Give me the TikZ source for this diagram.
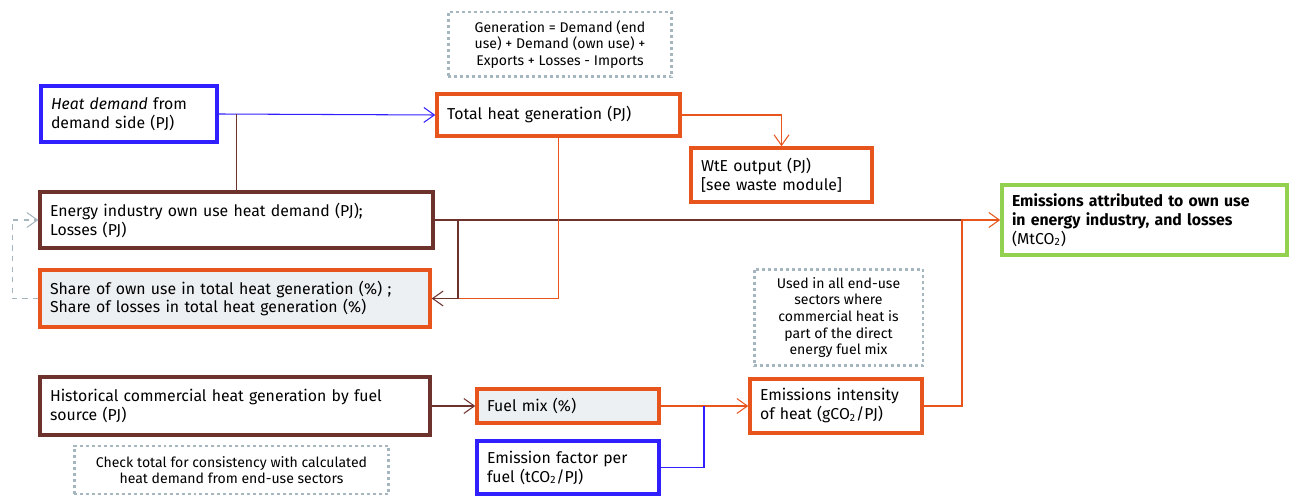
\documentclass[tikz,border=0pt]{standalone}
\usepackage{fontspec}
\setmainfont{Fira Sans}
\definecolor{heatblue}{RGB}{48, 32, 255}
\definecolor{genorange}{RGB}{232, 85, 28}
\definecolor{ownbrown}{RGB}{110, 50, 45}
\definecolor{emisgreen}{RGB}{146, 208, 80}
\definecolor{notegray}{RGB}{166, 182, 190}
\definecolor{sharefill}{RGB}{237, 240, 243}
\usetikzlibrary{arrows.meta, positioning}

\begin{document}
\begin{tikzpicture}[x=0.02cm, y=-0.02cm,
  box/.style={draw, line width=2pt, inner xsep=0.2cm, inner ysep=2pt, align=left,
    font=\fontsize{9}{10.8}\selectfont},
  note/.style={draw=notegray, line width=1.7pt, dash pattern=on 1.7pt off 1.7pt,
    align=center, font=\fontsize{8}{9.4}\selectfont},
  link/.style={line width=0.6pt},
  tip/.style={-{Straight Barb[length=6pt, width=8.5pt]}}]
  \useasboundingbox (0,0) rectangle (1291,496);

  % Inputs on the left
  \node[box, draw=heatblue, text width=3.12cm, minimum height=1.12cm] (heat) at (129,114)
    {\textit{Heat demand} from\\ demand side (PJ)};
  \node[box, draw=ownbrown, text width=7.46cm, minimum height=1.12cm] (own) at (236.5,220)
    {Energy industry own use heat demand (PJ);\\ Losses (PJ)};
  \node[box, draw=genorange, fill=sharefill, text width=7.4cm, minimum height=1.14cm] (share) at (235,298.5)
    {Share of own use in total heat generation (\%) ;\\ Share of losses in total heat generation (\%)};
  \node[box, draw=ownbrown, text width=7.4cm, minimum height=1.16cm] (hist) at (235,406)
    {Historical commercial heat generation by fuel\\ source (PJ)};

  % Generation
  \node[box, draw=genorange, text width=4.46cm, minimum height=0.84cm] (total) at (558.5,115)
    {Total heat generation (PJ)};
  \node[box, draw=genorange, text width=3.22cm, minimum height=1.08cm] (wte) at (781.5,175)
    {WtE output (PJ)\\ {[}see waste module{]}};

  % Emission factors
  \node[box, draw=genorange, fill=sharefill, text width=3.24cm, minimum height=0.68cm] (fuel) at (568,406)
    {Fuel mix (\%)};
  \node[box, draw=heatblue, text width=3.24cm, minimum height=1.06cm] (factor) at (568,467.5)
    {Emission factor per\\ fuel (tCO\textsubscript{2}/PJ)};
  \node[box, draw=genorange, text width=3.04cm, minimum height=1.08cm] (intens) at (836,406)
    {Emissions intensity\\ of heat (gCO\textsubscript{2}/PJ)};
  \node[box, draw=emisgreen, text width=5.3cm, minimum height=1.4cm] (emis) at (1144.5,220)
    {\textbf{Emissions attributed to own use}\\ \textbf{in energy industry, and losses}\\ (MtCO\textsubscript{2})};

  % Notes
  \node[note, minimum width=4.48cm, minimum height=1.3cm] (gennote) at (560,44.5)
    {Generation = Demand (end\\ use) + Demand (own use) +\\ Exports + Losses - Imports};
  \node[note, minimum width=3.38cm, minimum height=1.94cm] (usenote) at (838.5,317.5)
    {Used in all end-use\\ sectors where\\ commercial heat is\\ part of the direct\\ energy fuel mix};
  \node[note, minimum width=6.3cm, minimum height=0.96cm] (checknote) at (231.5,470)
    {Check total for consistency with calculated\\ heat demand from end-use sectors};

  % Junctions
  \coordinate (ej) at (962,220);
  \coordinate (sj) at (458,298.5);
  \coordinate (fj) at (704,406);

  % Connectors
  \draw[link, heatblue, tip] (heat.east) -- (total.west);
  \draw[link, ownbrown] (own.north) -- (own.north |- heat.east);
  \draw[link, genorange, tip] (total.east) -| (wte.north);
  \draw[link, ownbrown] (own.east) -- (ej);
  \draw[link, genorange, tip] (intens.east) -| (ej) -- (emis.west);
  \draw[link, genorange] (total.south) |- (sj);
  \draw[link, ownbrown, tip] (own.east -| sj) -- (sj) -- (share.east);
  \draw[link, notegray, dashed, tip] (share.west) -- ++(-26,0) |- (own.west);
  \draw[link, ownbrown, tip] (hist.east) -- (fuel.west);
  \draw[link, genorange, tip] (fuel.east) -- (intens.west);
  \draw[link, heatblue] (factor.east) -| (fj);
\end{tikzpicture}
\end{document}
